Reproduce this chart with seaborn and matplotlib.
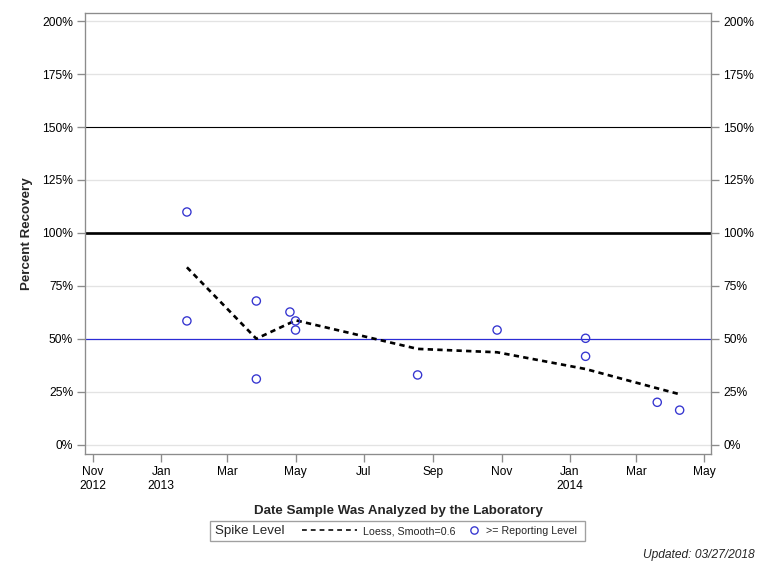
import matplotlib
matplotlib.use("Agg")
import matplotlib.pyplot as plt
import matplotlib.dates as mdates
from matplotlib.lines import Line2D
from matplotlib.patches import Rectangle
import seaborn as sns
import pandas as pd

# ---- data ----
sample_dates = ["2013-01-24", "2013-01-24", "2013-03-27", "2013-03-27",
                "2013-04-26", "2013-05-01", "2013-05-01", "2013-08-18",
                "2013-10-28", "2014-01-15", "2014-01-15", "2014-03-20",
                "2014-04-09"]
recovery = [109.9, 58.5, 67.9, 31.1, 62.7, 58.5, 54.2, 33.0, 54.2, 50.3,
            41.8, 20.1, 16.4]

loess_dates = ["2013-01-24", "2013-03-27", "2013-04-26", "2013-05-01",
               "2013-08-18", "2013-10-28", "2014-01-15", "2014-03-20",
               "2014-04-09"]
loess_values = [83.8, 50.1, 57.5, 58.8, 45.3, 43.7, 35.8, 26.7, 23.9]

ref_levels = [150, 100, 50]
y_ticks = [0, 25, 50, 75, 100, 125, 150, 175, 200]

pts = pd.DataFrame({"date": pd.to_datetime(sample_dates), "rec": recovery})
lo = pd.DataFrame({"date": pd.to_datetime(loess_dates), "val": loess_values})

sns.set_theme(style="white")
plt.rcParams["font.family"] = ["Liberation Sans", "DejaVu Sans"]

fig = plt.figure(figsize=(8, 6), dpi=96)
ax = fig.add_axes([85 / 768, 1 - 454 / 576, (711 - 85) / 768, (454 - 13) / 576])

frame_col = "#8c8c8c"
for yv in y_ticks:
    ax.axhline(yv, color="#e3e3e3", lw=1, zorder=0)
ax.axhline(ref_levels[0], color="black", lw=0.8, zorder=1)
ax.axhline(ref_levels[1], color="black", lw=2, zorder=1)
ax.axhline(ref_levels[2], color="#2b2bd6", lw=0.9, zorder=1)

sns.lineplot(data=lo, x="date", y="val", ax=ax, color="black", lw=2,
             linestyle=(0, (2, 1.6)), zorder=3, legend=False)
sns.scatterplot(data=pts, x="date", y="rec", ax=ax, marker="o",
                facecolor="none", edgecolor="#3535d0", linewidth=1,
                s=38, zorder=4, legend=False)

ax.set_ylim(-4.3, 203.8)
ax.set_yticks(y_ticks)
ax.set_yticklabels([f"{v}%" for v in y_ticks])
ax.set_xlim(pd.Timestamp("2012-10-25"), pd.Timestamp("2014-05-07"))
ax.xaxis.set_major_locator(mdates.MonthLocator(bymonth=[1, 3, 5, 7, 9, 11]))

def fmt(x, pos):
    d = mdates.num2date(x)
    lab = d.strftime("%b")
    if pos == 0 or d.month == 1:
        lab += "\n" + d.strftime("%Y")
    return lab
ax.xaxis.set_major_formatter(plt.FuncFormatter(fmt))

for sp in ax.spines.values():
    sp.set_color(frame_col)
    sp.set_linewidth(1)
ax.tick_params(axis="both", which="major", length=6, width=1, color=frame_col,
               labelsize=9, labelcolor="black", direction="out")
ax.tick_params(axis="x", bottom=True, pad=3)
ax.tick_params(axis="y", left=True, right=True, labelright=True, pad=3)
ax.grid(False)

ax.set_xlabel("Date Sample Was Analyzed by the Laboratory", fontsize=10,
              fontweight="bold", labelpad=10)
ax.set_ylabel("Percent Recovery", fontsize=10, fontweight="bold", labelpad=7)

# legend
fig.patches.append(Rectangle((210 / 768, 1 - 541 / 576), 375 / 768, 20 / 576,
                             transform=fig.transFigure, facecolor="white",
                             edgecolor="#a0a0a0", lw=1))
fig.text(215 / 768, 1 - 531 / 576, "Spike Level", fontsize=10,
         va="center", ha="left")
h_line = Line2D([], [], color="black", lw=1.2, linestyle=(0, (3, 2.5)))
h_mark = Line2D([], [], marker="o", ls="none", markerfacecolor="none",
                markeredgecolor="#3535d0", markersize=5.5)
leg1 = fig.legend([h_line], ["Loess, Smooth=0.6"],
                  loc="center left", bbox_to_anchor=(302 / 768, 1 - 531 / 576),
                  frameon=False, fontsize=8, handlelength=5.15,
                  handletextpad=0.56, borderpad=0, borderaxespad=0)
leg2 = fig.legend([h_mark], [">= Reporting Level"],
                  loc="center left", bbox_to_anchor=(468.5 / 768, 1 - 531 / 576),
                  frameon=False, fontsize=8, handlelength=1.0,
                  handletextpad=0.63, borderpad=0, borderaxespad=0)

fig.text(755 / 768, 1 - 555 / 576, "Updated: 03/27/2018", fontsize=9,
         style="italic", ha="right", va="center")

fig.savefig("out.png", dpi=96)
